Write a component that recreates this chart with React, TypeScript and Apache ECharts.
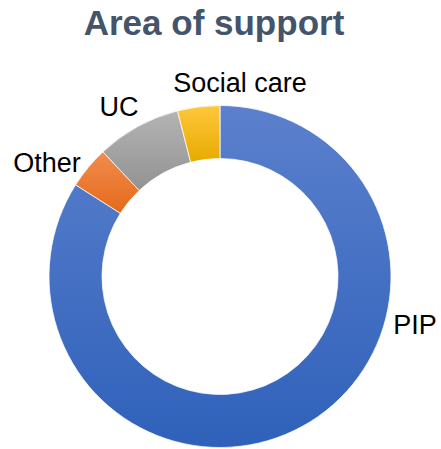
import { useEffect, useRef } from "react";
import * as echarts from "echarts";

const chartTitle = "Area of support";
const categories = ["PIP", "Other", "UC", "Social care"];
const values = [84, 4, 8, 4];

const gradients: string[][] = [
  ["#5b80cd", "#2f61ba"],
  ["#f28c4e", "#e4691a"],
  ["#b4b4b4", "#929292"],
  ["#ffc73d", "#e6ab00"],
];
const labelPos: number[][] = [
  [415, 325],
  [47, 163],
  [119, 106.5],
  [240, 83],
];

const FONT = "'Liberation Sans', Arial, sans-serif";

export default function App() {
  const ref = useRef<HTMLDivElement>(null);
  useEffect(() => {
    const chart = echarts.init(ref.current!, null, { renderer: "svg" });
    chart.setOption({
      animation: false,
      title: {
        text: chartTitle,
        left: 214,
        top: 4.5,
        textAlign: "center",
        padding: 0,
        textStyle: { fontFamily: FONT, fontSize: 35, fontWeight: "bold", color: "#44546a" },
      },
      series: [
        {
          type: "pie",
          center: [220, 276.5],
          radius: [118, 171],
          startAngle: 90,
          clockwise: true,
          avoidLabelOverlap: false,
          label: {
            show: true,
            position: "outside",
            formatter: "{b}",
            fontFamily: FONT,
            fontSize: 27,
            color: "#000",
          },
          labelLine: { show: false },
          labelLayout: (p: any) => ({
            x: labelPos[p.dataIndex][0],
            y: labelPos[p.dataIndex][1],
            align: "center",
            verticalAlign: "middle",
          }),
          itemStyle: { borderColor: "#fff", borderWidth: 0.75 },
          emphasis: { disabled: true },
          data: categories.map((c, i) => ({
            name: c,
            value: values[i],
            itemStyle: {
              color: new echarts.graphic.LinearGradient(0, 0, 0, 1, [
                { offset: 0, color: gradients[i][0] },
                { offset: 1, color: gradients[i][1] },
              ]),
            },
          })),
        },
      ],
    });
    return () => chart.dispose();
  }, []);
  return <div ref={ref} style={{ position: "absolute", left: 0, top: 0, width: 441, height: 449 }} />;
}
